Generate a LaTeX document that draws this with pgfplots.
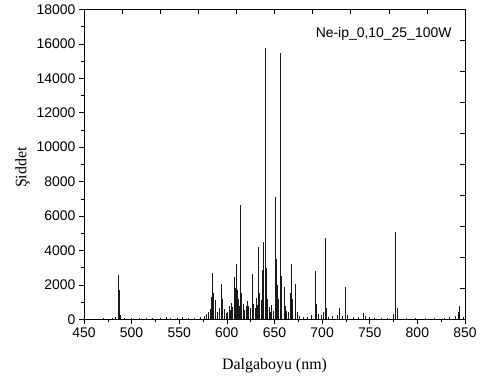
\documentclass[border=0pt]{standalone}
\usepackage{pgfplots}
\usepackage{pgfplotstable}
\pgfplotsset{compat=1.18}
\usepackage{fontspec}
\setmainfont{Liberation Serif}
\setsansfont{Liberation Sans}

\pgfplotstableread{
x y
460 40
470 60
480 80
483 150
486.1 2600
487.0 1700
488.5 250
492 80
500 60
508 80
515 50
522 90
530 70
536 110
541 80
548 60
553 120
560 90
566 100
572 130
576 200
579 300
581 450
582.5 600
584.2 1300
585.3 2700
586.3 1500
587.5 1100
588.4 800
590.2 450
592.4 650
594.5 2050
595.6 1200
597.5 600
599.5 350
601.0 450
602.5 750
603.6 550
605.0 950
606.0 700
607.4 2450
608.4 1800
609.6 3200
610.8 1700
612.0 1200
613.2 800
614.4 6650
615.6 1500
616.8 900
618.2 550
620.0 750
621.7 1050
623.0 800
624.5 650
626.6 2640
628.0 900
629.4 650
630.5 1250
632.0 850
633.4 4200
634.6 1500
635.8 1100
637.3 2850
638.3 4500
640.2 15750
641.3 3000
642.7 1200
644.4 700
646.0 450
647.2 850
648.4 500
650.6 7100
651.8 3500
653.0 2000
654.3 1200
656.3 15450
657.6 2500
659.9 1850
661.0 800
662.5 500
665.0 450
666.7 1500
667.8 3200
669.0 1200
671.7 2050
673.5 450
676 200
680 120
685 160
689 250
692.9 2800
693.9 900
696 300
699.5 250
701.5 450
703.2 4750
704.4 650
707 150
711 220
716 260
718.3 650
721 220
724.5 1880
726 250
733 120
738 160
743.5 340
745 200
750 120
755 80
762 90
769 100
775 300
777.4 5050
778.6 650
788 90
798 80
808 90
818 60
828 80
834 120
839.5 220
843.5 400
844.6 750
848 150
}\spec

\begin{document}
\begin{tikzpicture}
\path[use as bounding box] (-84bp,-63.7bp) rectangle (398bp,319.3bp);
\begin{axis}[
  at={(0,0)}, anchor=south west, scale only axis,
  width=381bp, height=309.8bp,
  xmin=450, xmax=850, ymin=0, ymax=18000,
  xtick={450,500,...,850}, ytick={0,2000,...,18000},
  minor x tick num=1, minor y tick num=1,
  xtick pos=bottom, ytick pos=left,
  tick align=outside,
  major tick length=5bp, minor tick length=3bp,
  tick style={black, line width=0.6bp},
  axis line style={line width=0.8bp},
  scaled ticks=false,
  /pgf/number format/assume math mode=true,
  /pgf/number format/1000 sep={},
  ticklabel style={font=\fontsize{14}{14}\selectfont\sffamily},
  xlabel={Dalgaboyu (nm)},
  ylabel={Şiddet},
  xlabel style={at={(axis description cs:0.5,0)}, anchor=north, yshift=-39bp, inner sep=0pt, font=\fontsize{16}{16}\selectfont},
  ylabel style={at={(axis description cs:-0.142,0.49)}, anchor=south, inner sep=0pt, font=\fontsize{16}{16}\selectfont},
]
\addplot[ycomb, black!90, line width=0.75bp, mark=none] table {\spec};
\node[anchor=east, inner sep=0pt, font=\fontsize{14}{14}\selectfont\sffamily] at (rel axis cs:0.965,0.921) {Ne-ip\_0,10\_25\_100W};
\end{axis}
\begin{axis}[
  at={(0,0)}, anchor=south west, scale only axis,
  width=381bp, height=309.8bp,
  xmin=450, xmax=850, ymin=0, ymax=18000,
  xtick={450,490,...,850}, ytick={0,1800,...,18000},
  xtick pos=top, ytick pos=right,
  tick align=inside,
  major tick length=5bp,
  tick style={black, line width=0.6bp},
  axis line style={line width=0.8bp},
  scaled ticks=false,
  xticklabel=\empty, yticklabel=\empty,
]
\end{axis}
\end{tikzpicture}
\end{document}
